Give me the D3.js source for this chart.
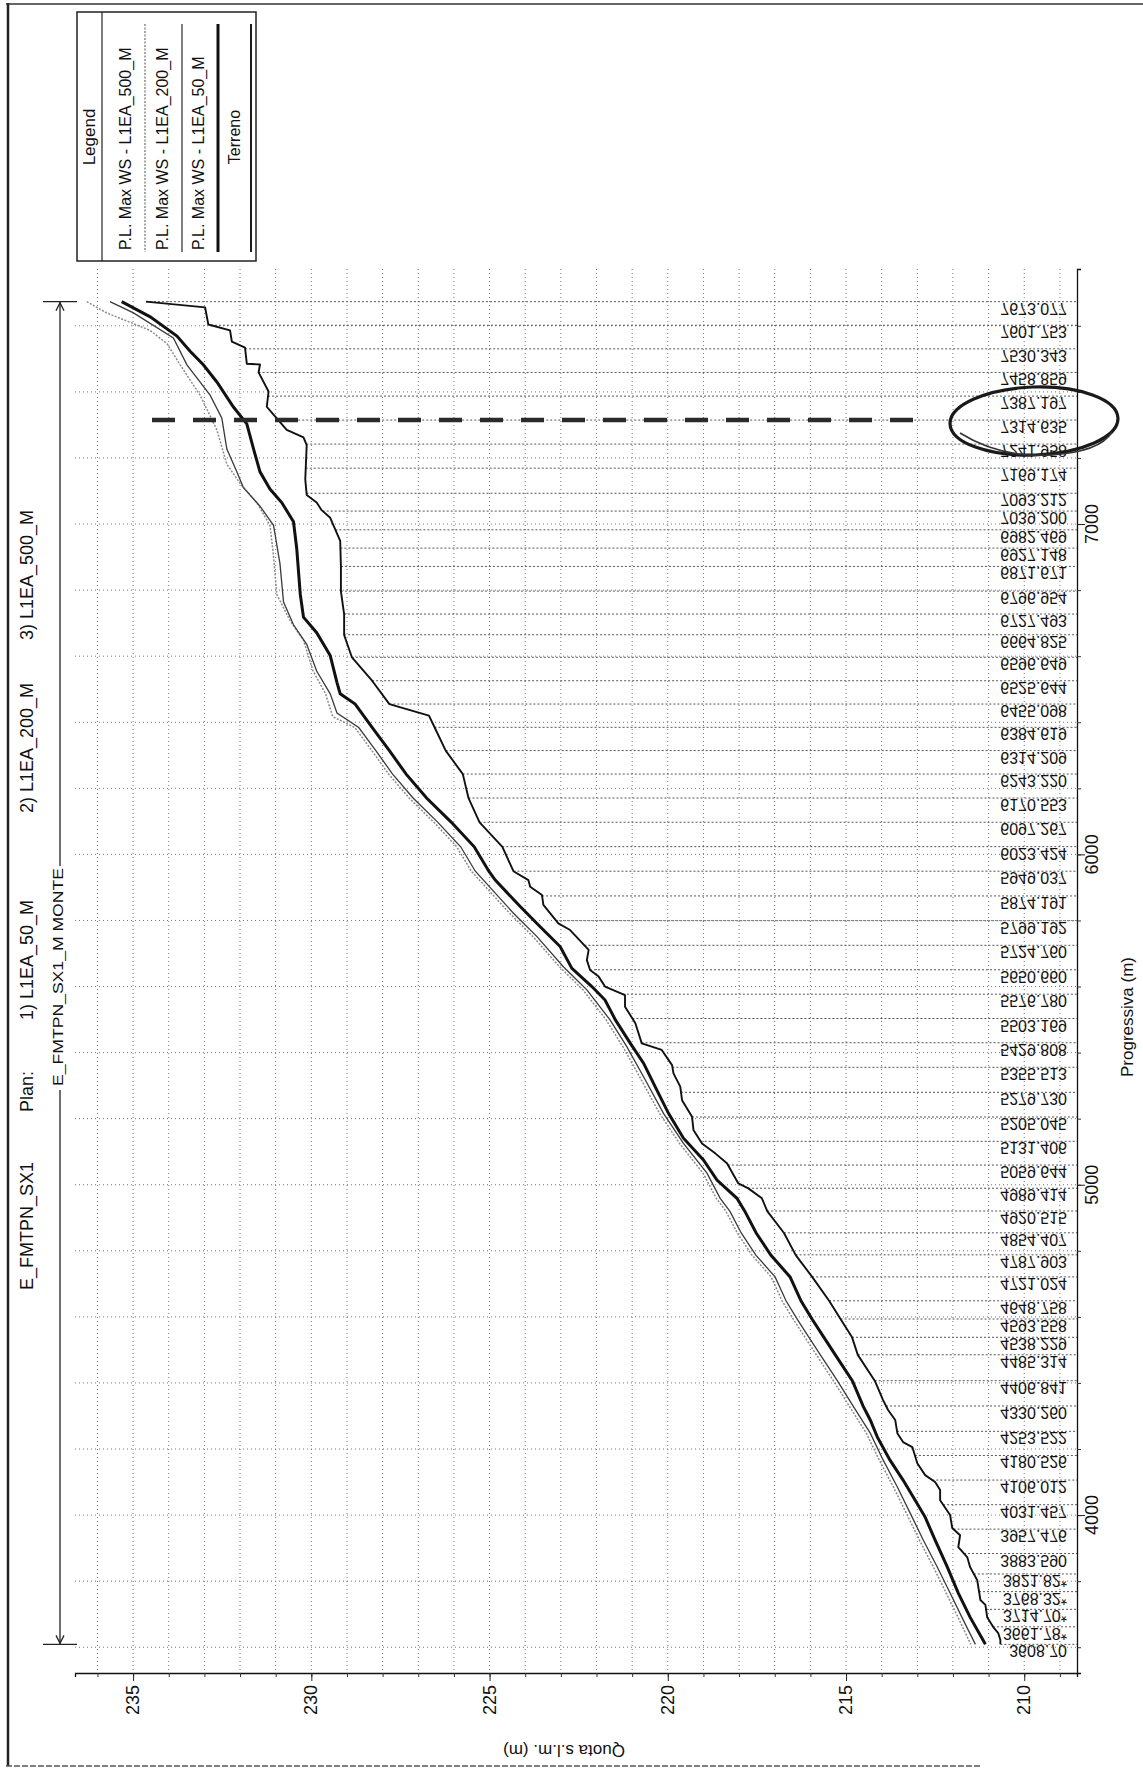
<!DOCTYPE html>
<html>
<head>
<meta charset="utf-8">
<script src="https://cdn.jsdelivr.net/npm/d3@7"></script>
<style>
  html, body { margin: 0; padding: 0; background: #fff; }
  svg { display: block; }
  text { font-family: "Liberation Sans", Arial, sans-serif; fill: #111; }
</style>
</head>
<body>
<svg id="chart" width="1143" height="1769"></svg>
<script>
// ---- data ---------------------------------------------------------------
const stationLabels = ["3608.70","3661.78*","3714.70*","3768.32*","3821.82*","3883.590","3957.476",
  "4031.457","4106.012","4180.526","4253.522","4330.260","4406.841","4485.314","4538.229","4593.558",
  "4648.758","4721.024","4787.903","4854.407","4920.515","4989.414","5059.644","5131.406","5205.045",
  "5279.730","5355.513","5429.808","5503.169","5576.780","5650.660","5724.760","5799.192","5874.191",
  "5949.037","6023.424","6097.267","6170.553","6243.220","6314.209","6384.619","6455.098","6525.644",
  "6596.649","6664.825","6727.493","6796.954","6871.671","6927.148","6982.469","7039.200","7093.212",
  "7169.174","7241.958","7314.635","7387.197","7458.859","7530.343","7601.753","7673.077"];

// [progressiva (m), quota (m)]
const terreno = [
  [7673.08,234.64],[7656,232.98],[7604,232.89],[7586,232.28],[7552,232.23],[7534,231.86],[7485,231.81],
  [7483,231.44],[7459,231.48],[7401,231.20],[7355,231.25],[7331,231.06],[7285,230.69],[7262,230.22],
  [7239,230.13],[7135,230.17],[7088,230.13],[7065,229.85],[7042,229.71],[7019,229.47],[6949,229.19],
  [6871,229.17],[6796,229.17],[6727,229.08],[6664,229.08],[6596,228.86],[6525,228.29],[6455,227.81],
  [6420,226.70],[6384,226.54],[6314,226.23],[6243,225.75],[6170,225.59],[6097,225.28],[6023,224.64],
  [5949,224.33],[5922,223.91],[5902,223.86],[5877,223.53],[5847,223.49],[5791,223.07],[5771,222.74],
  [5711,222.22],[5680,222.27],[5650,222.18],[5630,221.94],[5600,221.76],[5574,221.20],[5539,221.20],
  [5489,220.91],[5428,220.73],[5408,220.17],[5362,219.88],[5337,219.84],[5297,219.65],[5256,219.60],
  [5206,219.32],[5166,219.28],[5125,219.04],[5095,218.67],[5065,218.34],[5004,218.02],[4989,217.74],
  [4959,217.36],[4920,217.21],[4854,216.74],[4787,216.41],[4721,215.95],[4648,215.47],[4593,215.15],
  [4538,214.83],[4485,214.67],[4406,214.19],[4348,213.96],[4318,213.82],[4288,213.62],[4248,213.56],
  [4221,213.40],[4206,213.14],[4157,213.00],[4121,212.78],[4100,212.50],[4076,212.36],[4045,212.36],
  [4000,212.08],[3961,212.02],[3939,211.80],[3903,211.85],[3873,211.60],[3843,211.52],[3803,211.32],
  [3743,211.23],[3728,211.09],[3691,211.04],[3661,210.87],[3643,210.73],[3622,210.67],[3608.7,210.67]];

const ws50 = [
  [7673.08,235.32],[7627,234.52],[7569,233.77],[7523,233.40],[7482,233.03],[7430,232.65],[7355,232.19],
  [7303,231.81],[7227,231.62],[7158,231.44],[7106,231.16],[7065,230.83],[7007,230.50],[6926,230.41],
  [6787,230.31],[6718,230.22],[6671,229.85],[6602,229.47],[6520,229.28],[6486,229.19],[6455,228.77],
  [6384,228.29],[6314,227.81],[6243,227.34],[6170,226.76],[6097,226.07],[6023,225.43],[5949,225.02],
  [5922,224.84],[5842,224.14],[5781,223.58],[5721,223.02],[5655,222.69],[5600,222.13],[5559,221.76],
  [5499,221.47],[5428,221.05],[5368,220.68],[5287,220.31],[5216,219.98],[5141,219.56],[5075,219.00],
  [5014,218.62],[4959,218.06],[4920,217.84],[4854,217.52],[4787,217.11],[4721,216.57],[4648,216.26],
  [4593,215.95],[4538,215.62],[4485,215.30],[4406,214.82],[4330,214.52],[4288,214.32],[4236,214.12],
  [4167,213.77],[4106,213.40],[4054,213.11],[3994,212.78],[3924,212.50],[3843,212.16],[3764,211.85],
  [3691,211.52],[3608.7,211.09]];

const ws200 = [
  [7673.08,235.65],[7639,234.99],[7563,233.87],[7482,233.49],[7390,232.84],[7320,232.51],[7227,232.37],
  [7158,232.09],[7111,231.91],[7054,231.44],[6996,231.06],[6880,230.88],[6764,230.78],[6695,230.50],
  [6636,230.13],[6555,229.85],[6486,229.47],[6428,229.28],[6384,228.67],[6314,228.19],[6243,227.72],
  [6170,227.14],[6097,226.45],[6023,225.81],[5949,225.40],[5822,224.33],[5751,223.67],[5660,222.93],
  [5590,222.27],[5499,221.62],[5418,221.15],[5317,220.63],[5216,220.12],[5125,219.56],[5035,218.90],
  [4959,218.53],[4920,218.26],[4854,217.94],[4787,217.53],[4721,216.99],[4648,216.68],[4593,216.37],
  [4538,216.04],[4485,215.72],[4406,215.24],[4330,214.80],[4248,214.32],[4167,213.96],[4085,213.56],
  [4006,213.20],[3924,212.83],[3843,212.44],[3764,212.08],[3682,211.71],[3608.7,211.37]];

const ws500 = [
  [7673.08,236.30],[7639,235.74],[7586,234.52],[7546,234.05],[7482,233.68],[7390,233.12],[7285,232.65],
  [7181,232.37],[7123,232.00],[7065,231.53],[6996,231.16],[6903,231.06],[6787,230.97],[6706,230.59],
  [6648,230.22],[6555,229.95],[6486,229.60],[6417,229.40],[6384,228.78],[6314,228.30],[6243,227.83],
  [6170,227.25],[6097,226.56],[6023,225.92],[5949,225.51],[5822,224.44],[5751,223.78],[5660,223.04],
  [5590,222.38],[5499,221.73],[5418,221.26],[5317,220.74],[5216,220.23],[5125,219.67],[5035,219.01],
  [4959,218.64],[4920,218.37],[4854,218.05],[4787,217.64],[4721,217.10],[4648,216.79],[4593,216.48],
  [4538,216.15],[4485,215.83],[4406,215.35],[4330,214.91],[4248,214.43],[4167,214.07],[4085,213.67],
  [4006,213.31],[3924,212.94],[3843,212.55],[3764,212.19],[3682,211.82],[3608.7,211.50]];

const quotaTicks = [210, 215, 220, 225, 230, 235];
const progTicks = [4000, 5000, 6000, 7000];
const legendLabels = ["P.L.  Max WS - L1EA_500_M", "P.L.  Max WS - L1EA_200_M", "P.L.  Max WS - L1EA_50_M", "Terreno"];
const titleParts = ["E_FMTPN_SX1", "Plan:", "1) L1EA_50_M", "2) L1EA_200_M", "3) L1EA_500_M"];
const reachName = "E_FMTPN_SX1_M MONTE";
const markedStation = 7314.635;

// ---- layout -------------------------------------------------------------
const svg = d3.select("#chart");
const plot = { left: 75, right: 1077, top: 269, bottom: 1673 };

// the profile is drawn turned on its side: quota runs across, progressiva runs up
const x = d3.scaleLinear().domain([236.63, 208.52]).range([plot.left, plot.right]);
const y = d3.scaleLinear().domain([3522, 7772]).range([plot.bottom, plot.top]);

const stations = stationLabels.map(s => parseFloat(s));
const terrAsc = terreno.slice().sort((a, b) => a[0] - b[0]);
const bis = d3.bisector(d => d[0]).left;
function groundAt(p) {
  const i = Math.max(1, Math.min(terrAsc.length - 1, bis(terrAsc, p)));
  const a = terrAsc[i - 1], b = terrAsc[i];
  const t = (p - a[0]) / (b[0] - a[0]);
  return a[1] + t * (b[1] - a[1]);
}

function vText(g, px, py, str, size, anchor) {
  return g.append("text")
    .attr("transform", `translate(${px},${py}) rotate(-90)`)
    .attr("text-anchor", anchor || "middle")
    .attr("dominant-baseline", "central")
    .attr("font-size", size)
    .text(str);
}

// page frame
svg.append("line").attr("x1", 8).attr("y1", 3).attr("x2", 8).attr("y2", 1766)
  .attr("stroke", "#222").attr("stroke-width", 2.5);
svg.append("line").attr("x1", 6).attr("y1", 4).attr("x2", 1143).attr("y2", 4)
  .attr("stroke", "#333").attr("stroke-width", 1.6);
svg.append("line").attr("x1", 6).attr("y1", 1766).attr("x2", 980).attr("y2", 1766)
  .attr("stroke", "#555").attr("stroke-width", 1.4).attr("stroke-dasharray", "6,2");

// ---- grid ---------------------------------------------------------------
const grid = svg.append("g").attr("stroke", "#777").attr("stroke-width", 1)
  .attr("stroke-dasharray", "1,3").attr("fill", "none");
d3.range(209, 237).forEach(q => {
  grid.append("line").attr("x1", x(q)).attr("x2", x(q))
    .attr("y1", plot.top).attr("y2", plot.bottom);
});
d3.range(3600, 7772, 200).forEach(p => {
  grid.append("line").attr("x1", plot.left).attr("x2", plot.right)
    .attr("y1", y(p)).attr("y2", y(p));
});
// station lines from the ground to the axis
const stLines = svg.append("g").attr("stroke", "#555").attr("stroke-width", 1)
  .attr("stroke-dasharray", "2,2");
stations.forEach(s => {
  stLines.append("line").attr("x1", x(groundAt(s))).attr("x2", plot.right)
    .attr("y1", y(s)).attr("y2", y(s));
});

// ---- axes ---------------------------------------------------------------
const qAxis = d3.axisBottom(x).tickValues(d3.range(209, 237)).tickSize(4).tickFormat("");
svg.append("g").attr("transform", `translate(0,${plot.bottom})`).call(qAxis)
  .call(g => g.select(".domain").attr("stroke", "#111").attr("stroke-width", 1.3))
  .call(g => g.selectAll(".tick line").attr("stroke", "#333"));
svg.append("g").attr("transform", `translate(0,${plot.bottom})`)
  .call(d3.axisBottom(x).tickValues(quotaTicks).tickSize(8).tickFormat(""))
  .call(g => g.select(".domain").remove())
  .call(g => g.selectAll(".tick line").attr("stroke", "#222"));

const pAxis = d3.axisRight(y).tickValues(d3.range(3600, 7772, 200)).tickSize(4).tickFormat("");
svg.append("g").attr("transform", `translate(${plot.right},0)`).call(pAxis)
  .call(g => g.select(".domain").attr("stroke", "#111").attr("stroke-width", 1.3))
  .call(g => g.selectAll(".tick line").attr("stroke", "#333"));
svg.append("g").attr("transform", `translate(${plot.right},0)`)
  .call(d3.axisRight(y).tickValues(progTicks).tickSize(8).tickFormat(""))
  .call(g => g.select(".domain").remove())
  .call(g => g.selectAll(".tick line").attr("stroke", "#222"));

const labels = svg.append("g");
quotaTicks.forEach(q => vText(labels, x(q), plot.bottom + 12, String(q), 18, "end"));
progTicks.forEach(p => vText(labels, 1092, y(p), String(p), 18, "middle"));
vText(labels, 1127, 1017, "Progressiva (m)", 17, "middle");
labels.append("text")
  .attr("transform", `translate(564,1750) rotate(180)`)
  .attr("text-anchor", "middle").attr("dominant-baseline", "central")
  .attr("font-size", 17).text("Quota s.l.m. (m)");

// station labels, written mirrored below each station line
const stLab = svg.append("g");
stations.forEach((s, i) => {
  stLab.append("text")
    .attr("transform", `translate(1067,${y(s) + 1}) scale(1,-1.05)`)
    .attr("text-anchor", "end")
    .attr("font-size", 16)
    .text(stationLabels[i]);
});

// ---- profiles -----------------------------------------------------------
const line = d3.line().x(d => x(d[1])).y(d => y(d[0]));
svg.append("path").datum(ws500).attr("d", line).attr("fill", "none")
  .attr("stroke", "#8a8a8a").attr("stroke-width", 1.5).attr("stroke-dasharray", "2,1.5");
svg.append("path").datum(ws200).attr("d", line).attr("fill", "none")
  .attr("stroke", "#3a3a3a").attr("stroke-width", 1.3);
svg.append("path").datum(ws50).attr("d", line).attr("fill", "none")
  .attr("stroke", "#111").attr("stroke-width", 3);
svg.append("path").datum(terreno).attr("d", line).attr("fill", "none")
  .attr("stroke", "#111").attr("stroke-width", 1.9).attr("stroke-linejoin", "round");

// marked section
svg.append("line").attr("x1", x(234.47)).attr("x2", x(213.11))
  .attr("y1", y(markedStation)).attr("y2", y(markedStation))
  .attr("stroke", "#2a2a2a").attr("stroke-width", 4.5).attr("stroke-dasharray", "23,18");

// hand-drawn ring around the marked labels
svg.append("ellipse").attr("cx", 1034).attr("cy", 421).attr("rx", 84).attr("ry", 34)
  .attr("transform", "rotate(-2 1034 421)")
  .attr("fill", "none").attr("stroke", "#1a1a1a").attr("stroke-width", 3.2);
svg.append("path").attr("d", "M960,433 Q1000,458 1050,455 T1112,432")
  .attr("fill", "none").attr("stroke", "#333").attr("stroke-width", 1.5);

// ---- reach indicator ----------------------------------------------------
const reach = svg.append("g").attr("stroke", "#222").attr("stroke-width", 1.3);
const yTop = y(stations[stations.length - 1]), yBot = y(stations[0]);
reach.append("line").attr("x1", 60).attr("x2", 60).attr("y1", yTop).attr("y2", 866);
reach.append("line").attr("x1", 60).attr("x2", 60).attr("y1", 1090).attr("y2", yBot);
reach.append("line").attr("x1", 43).attr("x2", 77).attr("y1", yTop).attr("y2", yTop);
reach.append("line").attr("x1", 43).attr("x2", 77).attr("y1", yBot).attr("y2", yBot);
reach.append("path").attr("d", `M56,${yTop + 9} L60,${yTop + 1} L64,${yTop + 9}`).attr("fill", "none");
reach.append("path").attr("d", `M56,${yBot - 9} L60,${yBot - 1} L64,${yBot - 9}`).attr("fill", "none");
vText(svg, 58, 977, reachName, 14, "middle").attr("textLength", 218).attr("lengthAdjust", "spacingAndGlyphs");

// ---- title --------------------------------------------------------------
const titleStarts = [1290, 1112, 1020, 813, 640];
titleParts.forEach((t, i) => vText(svg, 27, titleStarts[i], t, 18, "start"));

// ---- legend -------------------------------------------------------------
const lg = svg.append("g");
lg.append("rect").attr("x", 77).attr("y", 12).attr("width", 179).attr("height", 249)
  .attr("fill", "#fff").attr("stroke", "#222").attr("stroke-width", 1.5);
lg.append("line").attr("x1", 102).attr("x2", 102).attr("y1", 12).attr("y2", 261)
  .attr("stroke", "#222").attr("stroke-width", 1.2);
vText(lg, 89, 137, "Legend", 17, "middle");
const textX = [125, 162, 198, 234];
const sampleX = [145, 182, 218, 251];
const sampleStyle = [
  { stroke: "#8a8a8a", w: 1.5, dash: "2,1.5" },
  { stroke: "#3a3a3a", w: 1.3, dash: null },
  { stroke: "#111", w: 3, dash: null },
  { stroke: "#111", w: 1.9, dash: null }];
legendLabels.forEach((t, i) => {
  if (i < 3) vText(lg, textX[i], 250, t, 16, "start");
  else vText(lg, textX[i], 137, t, 16, "middle");
  lg.append("line").attr("x1", sampleX[i]).attr("x2", sampleX[i]).attr("y1", 24).attr("y2", 252)
    .attr("stroke", sampleStyle[i].stroke).attr("stroke-width", sampleStyle[i].w)
    .attr("stroke-dasharray", sampleStyle[i].dash);
});
</script>
</body>
</html>
